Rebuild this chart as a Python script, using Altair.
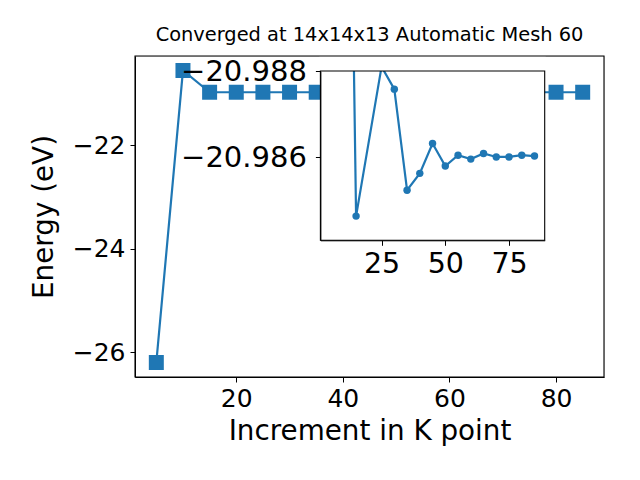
import altair as alt
import pandas as pd

# Main series
kpoints = [5, 10, 15, 20, 25, 30, 35, 40, 45, 50, 55, 60, 65, 70, 75, 80, 85]
energy = [-26.20, -20.56, -20.98, -20.98, -20.98, -20.98, -20.98, -20.98, -20.98,
          -20.98, -20.98, -20.98, -20.98, -20.98, -20.98, -20.98, -20.98]

# Inset series
inset_k = [5, 10, 15, 25, 30, 35, 40, 45, 50, 55, 60, 65, 70, 75, 80, 85]
inset_energy = [-26.20, -21.0049, -20.98464, -20.9881, -20.98758, -20.98524, -20.98563,
                -20.98632, -20.98580, -20.98605, -20.98596, -20.98609, -20.98601,
                -20.98601, -20.98605, -20.98603]

main_xticks = [20, 40, 60, 80]
main_yticks = [-26, -24, -22]
inset_xticks = [25, 50, 75]
inset_yticks = [-20.988, -20.986]

title_text = "Converged at 14x14x13 Automatic Mesh 60"
xlabel = "Increment in K point"
ylabel = "Energy (eV)"

BLUE = "#1f77b4"
FONT = "DejaVu Sans"

W, H = 469, 321
# inset placement (pixels inside the main plot area)
IX0, IX1 = 185.4, 409.7
IY0, IY1 = 15.0, 184.3

main_df = pd.DataFrame({"k": kpoints, "e": energy})
inset_df = pd.DataFrame({"k": inset_k, "e": inset_energy})

mx = alt.X("k:Q", scale=alt.Scale(domain=[1, 89], nice=False, zero=False),
           axis=alt.Axis(values=main_xticks, title=xlabel, grid=False,
                         labelFontSize=25, titleFontSize=27.8, labelFont=FONT, titleFont=FONT,
                         tickSize=5, labelPadding=4, titlePadding=6,
                         domainColor="black", tickColor="black", labelColor="black",
                         titleColor="black", titleFontWeight="normal"))
my = alt.Y("e:Q", scale=alt.Scale(domain=[-26.48, -20.28], nice=False, zero=False),
           axis=alt.Axis(values=main_yticks, title=ylabel, grid=False,
                         labelFontSize=25, titleFontSize=27.8, labelFont=FONT, titleFont=FONT,
                         tickSize=5, labelPadding=5, titlePadding=14,
                         domainColor="black", tickColor="black", labelColor="black",
                         titleColor="black", titleFontWeight="normal"))

main_line = alt.Chart(main_df).mark_line(color=BLUE, strokeWidth=2.2).encode(x=mx, y=my)
main_pts = alt.Chart(main_df).mark_point(shape="square", filled=True, size=225,
                                         color=BLUE, opacity=1).encode(x=mx, y=my)
main_layer = alt.layer(main_line, main_pts)

ix = alt.X("k:Q", scale=alt.Scale(domain=[1, 89], nice=False, zero=False, range=[IX0, IX1]),
           axis=alt.Axis(values=inset_xticks, title=None, grid=False, orient="bottom",
                         offset=IY1 - H, zindex=2,
                         labelFontSize=28.5, labelFont=FONT, tickSize=5, labelPadding=4,
                         domainColor="black", tickColor="black", labelColor="black"))
iy = alt.Y("e:Q", scale=alt.Scale(domain=[-20.988, -20.98408], nice=False, zero=False,
                                  range=[IY0, IY1]),
           axis=alt.Axis(values=inset_yticks, format=".3f", title=None, grid=False,
                         orient="left", offset=-IX0, zindex=2,
                         labelFontSize=29, labelFont=FONT, tickSize=5, labelPadding=9,
                         domainColor="black", tickColor="black", labelColor="black"))

inset_line = alt.Chart(inset_df).mark_line(color=BLUE, strokeWidth=2.2, clip=True).encode(x=ix, y=iy)
inset_pts = alt.Chart(inset_df).mark_point(shape="circle", filled=True, size=55,
                                           color=BLUE, opacity=1, clip=True).encode(x=ix, y=iy)
inset_layer = alt.layer(inset_line, inset_pts)

box_df = pd.DataFrame({"dummy": [0]})
box_fill = alt.Chart(box_df).mark_rect(fill="white", strokeWidth=0).encode(
    x=alt.value(IX0), x2=alt.value(IX1), y=alt.value(IY0), y2=alt.value(IY1))
mask = alt.Chart(box_df).mark_rect(fill="white", strokeWidth=0).encode(
    x=alt.value(IX0 - 1), x2=alt.value(IX1 + 1), y=alt.value(-3), y2=alt.value(IY0))
box_stroke = alt.Chart(box_df).mark_rect(fill=None, stroke="black", strokeWidth=1.1).encode(
    x=alt.value(IX0), x2=alt.value(IX1), y=alt.value(IY0), y2=alt.value(IY1))
frame = alt.Chart(box_df).mark_rect(fill=None, stroke="black", strokeWidth=1.1).encode(
    x=alt.value(0), x2=alt.value(W), y=alt.value(0), y2=alt.value(H))

chart = alt.layer(main_layer, box_fill, inset_layer, mask, box_stroke, frame).resolve_scale(
    x="independent", y="independent"
).properties(
    width=W, height=H,
    title=alt.TitleParams(title_text, font=FONT, fontSize=19.4, fontWeight="normal",
                          color="black", anchor="middle", offset=8),
    autosize=alt.AutoSizeParams(type="none"),
    padding={"left": 127, "top": 48, "right": 20, "bottom": 80},
).configure_view(stroke=None).configure(background="white")

chart.save("out.html", embed_options={"renderer": "svg", "actions": False})
